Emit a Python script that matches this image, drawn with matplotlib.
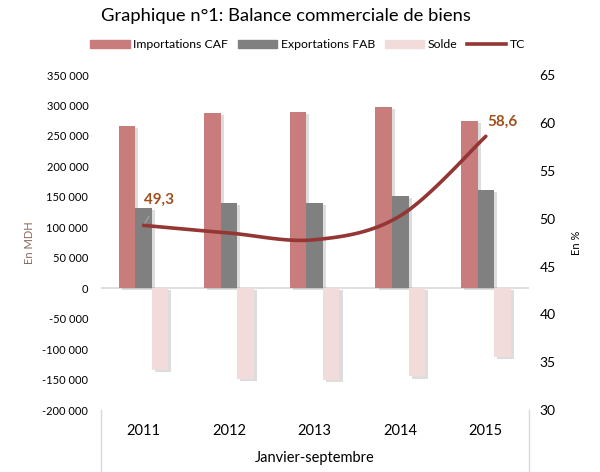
import matplotlib
matplotlib.use("Agg")
import matplotlib.pyplot as plt
import matplotlib.patheffects as pe
from matplotlib.lines import Line2D
from matplotlib.patches import Patch
import numpy as np

years = ["2011", "2012", "2013", "2014", "2015"]
importations = [267000, 288000, 289500, 297000, 274000]
exportations = [132600, 139800, 139800, 152300, 161700]
solde = [-134400, -148200, -149700, -144700, -112300]
tc = [49.3, 48.5, 47.8, 50.3, 58.6]

left_ticks = [350000, 300000, 250000, 200000, 150000, 100000, 50000, 0,
              -50000, -100000, -150000, -200000]
right_ticks = [30, 35, 40, 45, 50, 55, 60, 65]

c_imp = "#C87C7C"
c_exp = "#808080"
c_sol = "#F2DCDB"
c_tc = "#943634"
c_lab = "#A0501E"

plt.rcParams['font.family'] = ['Lato', 'DejaVu Sans']

fig = plt.figure(figsize=(6.0, 4.72), dpi=100)
ax = fig.add_axes([0.168, 0.131, 0.713, 0.710])
ax2 = ax.twinx()

x = np.arange(len(years))
w = 0.193
shadow = [pe.SimplePatchShadow(offset=(2.2, -1.5), shadow_rgbFace="#888888", alpha=0.28), pe.Normal()]
for vals, off, col in [(importations, -w, c_imp), (exportations, 0, c_exp), (solde, w, c_sol)]:
    bars = ax.bar(x + off, vals, width=w, color=col, zorder=3)
    for b in bars:
        b.set_path_effects(shadow)

ax.axhline(0, color="#D9D9D9", lw=1.2, zorder=2)
ax.set_xlim(-0.5, len(years) - 0.5)
ax.set_ylim(-200000, 350000)
ax.set_yticks(left_ticks)
ax.set_yticklabels([f"{v:,}".replace(",", " ") for v in left_ticks], fontsize=8)
ax.set_xticks(x)
ax.set_xticklabels(years, fontsize=10.5)
ax.tick_params(axis='x', length=0, pad=10)
ax.tick_params(axis='y', length=0, pad=9)
for s in ax.spines.values():
    s.set_visible(False)
ax.set_ylabel("En MDH", fontsize=8, color="#8B6A5A", labelpad=5)
ax.set_xlabel("Janvier-septembre", fontsize=10.5, labelpad=9)

# smoothed TC line (Excel-style Bezier through the data points)
P = np.column_stack([x, tc]).astype(float)
n = len(P)
pts = []
tt = np.linspace(0, 1, 30)
for i in range(n - 1):
    p0 = P[max(i - 1, 0)]
    p1 = P[i]
    p2 = P[i + 1]
    p3 = P[min(i + 2, n - 1)]
    b1 = p1 + (p2 - p0) / 6.0
    b2 = p2 - (p3 - p1) / 6.0
    seg = ((1 - tt) ** 3)[:, None] * p1 + (3 * (1 - tt) ** 2 * tt)[:, None] * b1 \
        + (3 * (1 - tt) * tt ** 2)[:, None] * b2 + (tt ** 3)[:, None] * p2
    pts.append(seg if i == 0 else seg[1:])
curve = np.vstack(pts)
ax2.plot(curve[:, 0], curve[:, 1], color=c_tc, lw=2.6, solid_capstyle='round', zorder=5)
ax2.set_ylim(30, 65)
ax2.set_yticks(right_ticks)
ax2.set_yticklabels([str(v) for v in right_ticks], fontsize=10)
ax2.tick_params(axis='y', length=0, pad=8)
for s in ax2.spines.values():
    s.set_visible(False)
ax2.set_ylabel("En %", fontsize=8, labelpad=11)

ax2.annotate(f"{tc[0]:.1f}".replace(".", ","), xy=(x[0], tc[0]), xytext=(x[0] + 0.18, 52.0),
             fontsize=11, fontweight='bold', color=c_lab, ha='center', va='center',
             arrowprops=dict(arrowstyle='-', color="#A6A6A6", lw=0.8, shrinkA=6, shrinkB=0))
ax2.text(x[-1] + 0.19, 60.1, f"{tc[-1]:.1f}".replace(".", ","), fontsize=11,
         fontweight='bold', color=c_lab, ha='center', va='center')

# category box edges below plot
for xf in (0.168, 0.881):
    fig.add_artist(Line2D([xf, xf], [0.0, 0.131], color="#D9D9D9", lw=1))

fig.text(0.476, 0.966, "Graphique n°1: Balance commerciale de biens", fontsize=13.2,
         ha='center', va='center')

handles = [Patch(color=c_imp), Patch(color=c_exp), Patch(color=c_sol),
           Line2D([0], [0], color=c_tc, lw=2.6)]
labels = ["Importations CAF", "Exportations FAB", "Solde", "TC"]
fig.legend(handles, labels, loc='center', bbox_to_anchor=(0.513, 0.905), ncol=4,
           frameon=False, fontsize=8.8, handlelength=3.2, handleheight=0.6,
           handletextpad=0.3, columnspacing=0.8)

fig.savefig("out.png", dpi=100)
